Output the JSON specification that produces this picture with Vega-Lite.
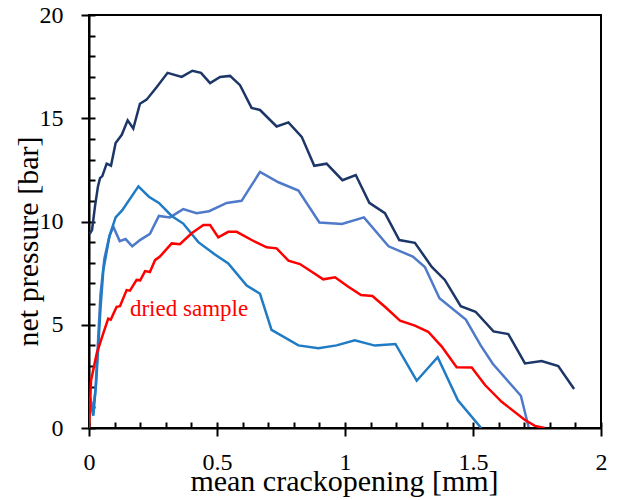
{
  "$schema": "https://vega.github.io/schema/vega-lite/v6.json",
  "width": 512,
  "height": 413,
  "autosize": {"type": "none"},
  "padding": {"left": 89, "top": 15, "right": 21, "bottom": 72},
  "background": "white",
  "config": {"view": {"stroke": "black", "strokeWidth": 2}},
  "datasets": {
    "curves": [
      {"s": "navy", "x": 0.003, "y": 9.4},
      {"s": "navy", "x": 0.012, "y": 9.6},
      {"s": "navy", "x": 0.023, "y": 10.7},
      {"s": "navy", "x": 0.035, "y": 11.7},
      {"s": "navy", "x": 0.043, "y": 12.1},
      {"s": "navy", "x": 0.052, "y": 12.2},
      {"s": "navy", "x": 0.069, "y": 12.8},
      {"s": "navy", "x": 0.086, "y": 12.7},
      {"s": "navy", "x": 0.104, "y": 13.8},
      {"s": "navy", "x": 0.128, "y": 14.2},
      {"s": "navy", "x": 0.151, "y": 14.9},
      {"s": "navy", "x": 0.173, "y": 14.5},
      {"s": "navy", "x": 0.199, "y": 15.7},
      {"s": "navy", "x": 0.225, "y": 15.9},
      {"s": "navy", "x": 0.264, "y": 16.5},
      {"s": "navy", "x": 0.307, "y": 17.2},
      {"s": "navy", "x": 0.362, "y": 17.0},
      {"s": "navy", "x": 0.404, "y": 17.3},
      {"s": "navy", "x": 0.4375, "y": 17.2},
      {"s": "navy", "x": 0.473, "y": 16.7},
      {"s": "navy", "x": 0.512, "y": 17.0},
      {"s": "navy", "x": 0.551, "y": 17.05},
      {"s": "navy", "x": 0.59, "y": 16.6},
      {"s": "navy", "x": 0.635, "y": 15.5},
      {"s": "navy", "x": 0.668, "y": 15.4},
      {"s": "navy", "x": 0.733, "y": 14.6},
      {"s": "navy", "x": 0.779, "y": 14.8},
      {"s": "navy", "x": 0.831, "y": 14.1},
      {"s": "navy", "x": 0.88, "y": 12.7},
      {"s": "navy", "x": 0.928, "y": 12.8},
      {"s": "navy", "x": 0.99, "y": 12.0},
      {"s": "navy", "x": 1.042, "y": 12.25},
      {"s": "navy", "x": 1.095, "y": 10.9},
      {"s": "navy", "x": 1.156, "y": 10.4},
      {"s": "navy", "x": 1.212, "y": 9.1},
      {"s": "navy", "x": 1.273, "y": 8.97},
      {"s": "navy", "x": 1.339, "y": 7.8},
      {"s": "navy", "x": 1.39, "y": 7.17},
      {"s": "navy", "x": 1.452, "y": 5.9},
      {"s": "navy", "x": 1.51, "y": 5.63},
      {"s": "navy", "x": 1.58, "y": 4.68},
      {"s": "navy", "x": 1.638, "y": 4.55},
      {"s": "navy", "x": 1.703, "y": 3.13},
      {"s": "navy", "x": 1.768, "y": 3.24},
      {"s": "navy", "x": 1.833, "y": 3.0},
      {"s": "navy", "x": 1.895, "y": 1.89},

      {"s": "medium", "x": 0.005, "y": 1.5},
      {"s": "medium", "x": 0.015, "y": 0.8},
      {"s": "medium", "x": 0.025, "y": 1.8},
      {"s": "medium", "x": 0.045, "y": 6.5},
      {"s": "medium", "x": 0.06, "y": 8.2},
      {"s": "medium", "x": 0.08, "y": 9.3},
      {"s": "medium", "x": 0.095, "y": 9.75},
      {"s": "medium", "x": 0.12, "y": 9.05},
      {"s": "medium", "x": 0.143, "y": 9.15},
      {"s": "medium", "x": 0.169, "y": 8.8},
      {"s": "medium", "x": 0.199, "y": 9.1},
      {"s": "medium", "x": 0.238, "y": 9.4},
      {"s": "medium", "x": 0.273, "y": 10.27},
      {"s": "medium", "x": 0.316, "y": 10.2},
      {"s": "medium", "x": 0.368, "y": 10.6},
      {"s": "medium", "x": 0.42, "y": 10.4},
      {"s": "medium", "x": 0.469, "y": 10.5},
      {"s": "medium", "x": 0.538, "y": 10.9},
      {"s": "medium", "x": 0.596, "y": 11.0},
      {"s": "medium", "x": 0.668, "y": 12.4},
      {"s": "medium", "x": 0.74, "y": 11.9},
      {"s": "medium", "x": 0.818, "y": 11.5},
      {"s": "medium", "x": 0.9, "y": 9.95},
      {"s": "medium", "x": 0.988, "y": 9.88},
      {"s": "medium", "x": 1.074, "y": 10.2},
      {"s": "medium", "x": 1.17, "y": 8.8},
      {"s": "medium", "x": 1.265, "y": 8.3},
      {"s": "medium", "x": 1.312, "y": 7.8},
      {"s": "medium", "x": 1.369, "y": 6.28},
      {"s": "medium", "x": 1.472, "y": 5.25},
      {"s": "medium", "x": 1.53, "y": 4.0},
      {"s": "medium", "x": 1.578, "y": 3.1},
      {"s": "medium", "x": 1.687, "y": 1.56},
      {"s": "medium", "x": 1.717, "y": 0.05},

      {"s": "bright", "x": 0.004, "y": 1.3},
      {"s": "bright", "x": 0.017, "y": 0.6},
      {"s": "bright", "x": 0.028, "y": 2.2},
      {"s": "bright", "x": 0.045, "y": 5.8},
      {"s": "bright", "x": 0.056, "y": 7.65},
      {"s": "bright", "x": 0.08, "y": 9.3},
      {"s": "bright", "x": 0.104, "y": 10.2},
      {"s": "bright", "x": 0.13, "y": 10.55},
      {"s": "bright", "x": 0.193, "y": 11.7},
      {"s": "bright", "x": 0.234, "y": 11.2},
      {"s": "bright", "x": 0.273, "y": 10.9},
      {"s": "bright", "x": 0.323, "y": 10.27},
      {"s": "bright", "x": 0.368, "y": 9.9},
      {"s": "bright", "x": 0.427, "y": 9.0},
      {"s": "bright", "x": 0.492, "y": 8.4},
      {"s": "bright", "x": 0.544, "y": 7.97},
      {"s": "bright", "x": 0.616, "y": 6.9},
      {"s": "bright", "x": 0.668, "y": 6.5},
      {"s": "bright", "x": 0.713, "y": 4.75},
      {"s": "bright", "x": 0.818, "y": 4.0},
      {"s": "bright", "x": 0.896, "y": 3.86},
      {"s": "bright", "x": 0.967, "y": 4.0},
      {"s": "bright", "x": 1.038, "y": 4.25},
      {"s": "bright", "x": 1.117, "y": 3.99},
      {"s": "bright", "x": 1.197, "y": 4.07},
      {"s": "bright", "x": 1.28, "y": 2.29},
      {"s": "bright", "x": 1.362, "y": 3.43},
      {"s": "bright", "x": 1.441, "y": 1.34},
      {"s": "bright", "x": 1.532, "y": 0.0},

      {"s": "red", "x": 0.0, "y": 0.0},
      {"s": "red", "x": 0.008, "y": 2.3},
      {"s": "red", "x": 0.03, "y": 3.6},
      {"s": "red", "x": 0.056, "y": 4.6},
      {"s": "red", "x": 0.075, "y": 5.3},
      {"s": "red", "x": 0.085, "y": 5.25},
      {"s": "red", "x": 0.108, "y": 5.87},
      {"s": "red", "x": 0.121, "y": 5.9},
      {"s": "red", "x": 0.147, "y": 6.68},
      {"s": "red", "x": 0.16, "y": 6.65},
      {"s": "red", "x": 0.186, "y": 7.17},
      {"s": "red", "x": 0.2, "y": 7.15},
      {"s": "red", "x": 0.219, "y": 7.6},
      {"s": "red", "x": 0.238, "y": 7.55},
      {"s": "red", "x": 0.258, "y": 8.13},
      {"s": "red", "x": 0.277, "y": 8.3},
      {"s": "red", "x": 0.323, "y": 8.94},
      {"s": "red", "x": 0.355, "y": 8.9},
      {"s": "red", "x": 0.401, "y": 9.43},
      {"s": "red", "x": 0.447, "y": 9.83},
      {"s": "red", "x": 0.473, "y": 9.83},
      {"s": "red", "x": 0.505, "y": 9.23},
      {"s": "red", "x": 0.544, "y": 9.5},
      {"s": "red", "x": 0.577, "y": 9.5},
      {"s": "red", "x": 0.648, "y": 9.02},
      {"s": "red", "x": 0.694, "y": 8.75},
      {"s": "red", "x": 0.733, "y": 8.7},
      {"s": "red", "x": 0.779, "y": 8.1},
      {"s": "red", "x": 0.824, "y": 7.94},
      {"s": "red", "x": 0.87, "y": 7.57},
      {"s": "red", "x": 0.915, "y": 7.2},
      {"s": "red", "x": 0.961, "y": 7.3},
      {"s": "red", "x": 1.013, "y": 6.84},
      {"s": "red", "x": 1.0625, "y": 6.44},
      {"s": "red", "x": 1.107, "y": 6.39},
      {"s": "red", "x": 1.156, "y": 5.87},
      {"s": "red", "x": 1.215, "y": 5.2},
      {"s": "red", "x": 1.273, "y": 4.96},
      {"s": "red", "x": 1.325, "y": 4.66},
      {"s": "red", "x": 1.378, "y": 3.94},
      {"s": "red", "x": 1.436, "y": 2.94},
      {"s": "red", "x": 1.495, "y": 2.93},
      {"s": "red", "x": 1.547, "y": 2.08},
      {"s": "red", "x": 1.612, "y": 1.27},
      {"s": "red", "x": 1.703, "y": 0.39},
      {"s": "red", "x": 1.742, "y": 0.1},
      {"s": "red", "x": 1.78, "y": 0.0}
    ],
    "note": [
      {"x": 0.16, "y": 5.4, "label": "dried sample"}
    ]
  },
  "layer": [
    {
      "data": {"name": "curves"},
      "mark": {"type": "line", "strokeWidth": 2.5, "clip": true},
      "encoding": {
        "x": {
          "field": "x", "type": "quantitative",
          "scale": {"domain": [0, 2], "nice": false, "zero": false},
          "axis": {
            "values": [0, 0.5, 1, 1.5, 2],
            "format": "~g",
            "grid": false,
            "tickColor": "#000000",
            "tickSize": 8, "tickWidth": 2,
            "domainColor": "#000000", "domainWidth": 2,
            "labelFont": "Liberation Serif", "labelColor": "#000000",
            "labelFontSize": 24, "labelPadding": 14, "labelFlush": false,
            "title": "mean crackopening [mm]",
            "titleFont": "Liberation Serif", "titleColor": "#000000", "titleFontWeight": "normal",
            "titleFontSize": 30,
            "titleX": 255, "titleY": 62,
            "titleBaseline": "alphabetic", "titleAlign": "center"
          }
        },
        "y": {
          "field": "y", "type": "quantitative",
          "scale": {"domain": [0, 20], "nice": false},
          "axis": {
            "values": [0, 5, 10, 15, 20],
            "grid": false,
            "tickColor": "#000000",
            "tickSize": 8, "tickWidth": 2,
            "domainColor": "#000000", "domainWidth": 2,
            "labelFont": "Liberation Serif", "labelColor": "#000000",
            "labelFontSize": 24, "labelPadding": 18, "labelFlush": false,
            "title": "net pressure [bar]",
            "titleFont": "Liberation Serif", "titleColor": "#000000", "titleFontWeight": "normal",
            "titleFontSize": 30,
            "titleAngle": 270,
            "titleX": -52, "titleY": 226,
            "titleBaseline": "alphabetic", "titleAlign": "center"
          }
        },
        "color": {
          "field": "s", "type": "nominal",
          "scale": {"domain": ["navy", "medium", "bright", "red"], "range": ["#1c3667", "#4f79c9", "#1f7bc4", "#ff0000"]},
          "legend": null
        },
        "order": {"field": "x", "type": "quantitative"}
      }
    },
    {
      "data": {"name": "note"},
      "mark": {"type": "text", "font": "Liberation Serif", "fontSize": 23, "color": "#ff0000", "align": "left", "baseline": "alphabetic"},
      "encoding": {
        "x": {
          "field": "x", "type": "quantitative",
          "axis": {
            "orient": "bottom",
            "values": [0, 0.1, 0.2, 0.3, 0.4, 0.5, 0.6, 0.7, 0.8, 0.9, 1, 1.1, 1.2, 1.3, 1.4, 1.5, 1.6, 1.7, 1.8, 1.9, 2],
            "grid": false,
            "tickColor": "#000000",
            "tickSize": -6, "tickWidth": 2, "domain": false, "labels": false, "title": null,
            "encode": {
              "ticks": {
                "update": {
                  "y": {"signal": "abs(datum.value * 2 - round(datum.value * 2)) < 0.001 ? 7 : 0"},
                  "y2": {"value": -6}
                }
              }
            }
          }
        },
        "y": {
          "field": "y", "type": "quantitative",
          "axis": {
            "orient": "left",
            "values": [0, 1, 2, 3, 4, 5, 6, 7, 8, 9, 10, 11, 12, 13, 14, 15, 16, 17, 18, 19, 20],
            "grid": false,
            "tickColor": "#000000",
            "tickSize": -6, "tickWidth": 2, "domain": false, "labels": false, "title": null,
            "encode": {
              "ticks": {
                "update": {
                  "x": {"signal": "datum.value % 5 === 0 ? -7 : 0"},
                  "x2": {"value": 6}
                }
              }
            }
          }
        },
        "text": {"field": "label"}
      }
    }
  ],
  "resolve": {"axis": {"x": "independent", "y": "independent"}}
}
